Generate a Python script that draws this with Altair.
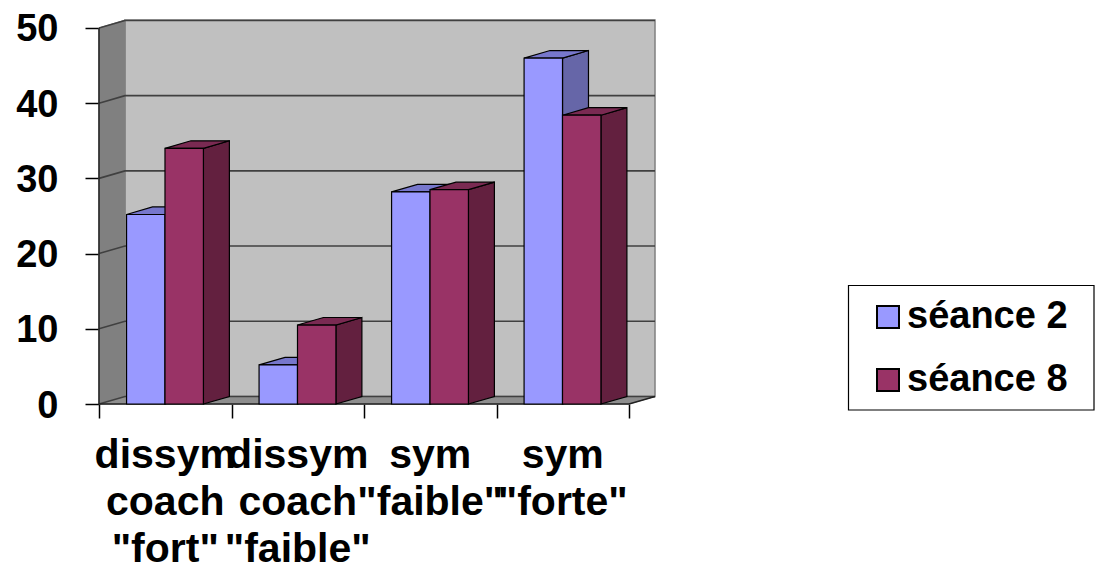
import altair as alt
import pandas as pd

categories = ['dissym\ncoach\n"fort"', 'dissym\ncoach\n"faible"', 'sym\n"faible"', 'sym\n"forte"']
series_names = ["séance 2", "séance 8"]
seance_2 = [25.2, 5.2, 28.2, 46.0]
seance_8 = [34.0, 10.5, 28.5, 38.4]
y_ticks = [0, 10, 20, 30, 40, 50]
x_ticks = [0, 1, 2, 3, 4]

# 3-D projection, in data units of each scale
DX, DY = 0.196, 1.0
GAP, BAR = 0.208, 0.29
X_MAX, Y_MAX = 4 + DX, 51.06

FONT = "Liberation Sans"
xs = alt.Scale(domain=[0, X_MAX], nice=False, zero=False)
ys = alt.Scale(domain=[0, Y_MAX], nice=False, zero=False)
x_axis = alt.Axis(values=x_ticks, labels=False, domain=False, grid=False,
                  tickSize=14, tickColor="#000000", tickWidth=1.5, title=None)
y_axis = alt.Axis(values=y_ticks, domain=False, grid=False, tickSize=14,
                  tickColor="#000000", tickWidth=1.5, labelFont=FONT,
                  labelFontSize=38, labelFontWeight="bold", labelColor="#000000",
                  labelPadding=27, labelOffset=2, title=None)
X = alt.X("x:Q", scale=xs, axis=x_axis)
Y = alt.Y("y:Q", scale=ys, axis=y_axis)
Y2 = alt.Y2("y2:Q")


def area(rows, fill, stroke="#000000", width=1.2):
    df = pd.DataFrame(rows, columns=["id", "x", "y", "y2"])
    return alt.Chart(df).mark_area(orient="vertical", fill=fill, stroke=stroke,
                                   strokeWidth=width, opacity=1).encode(
        x=X, y=Y, y2=Y2, detail="id:N")


wall = alt.Chart(pd.DataFrame({"x": [DX], "x2": [X_MAX], "y": [DY], "y2": [Y_MAX]})).mark_rect(
    fill="#C0C0C0", stroke="#808080", strokeWidth=1.5).encode(x=X, x2="x2:Q", y=Y, y2=Y2)

left_wall = area([(0, 0, 0, 50), (0, DX, DY, Y_MAX)], "#808080", "#808080", 1)
floor = area([(0, 0, 0, 0), (0, DX, 0, DY), (0, 4, 0, DY), (0, X_MAX, DY, DY)], "#8E8E8E", "#8E8E8E", 1)

grid_rows = []
for v in y_ticks:
    grid_rows += [(v, 0, v), (v, DX, v + DY), (v, X_MAX, v + DY)]
grid = alt.Chart(pd.DataFrame(grid_rows, columns=["v", "x", "y"])).mark_line(
    color="#404040", strokeWidth=1.6).encode(x=X, y=Y, detail="v:N")

frame = alt.Chart(pd.DataFrame({"x": [0, 0, 4, X_MAX], "y": [50, 0, 0, DY], "i": [0, 1, 2, 3]})).mark_line(
    color="#202020", strokeWidth=1.5).encode(x=X, y=Y, order="i:Q")


def faces(values, start):
    side, top = [], []
    for i, v in enumerate(values):
        x0 = i + start
        x1 = x0 + BAR
        side += [(i, x1, 0, v), (i, x1 + DX, DY, v + DY)]
        top += [(i, x0, v, v), (i, x0 + DX, v, v + DY), (i, x1, v, v + DY), (i, x1 + DX, v + DY, v + DY)]
    return side, top


s1_side, s1_top = faces(seance_2, GAP)
s2_side, s2_top = faces(seance_8, GAP + BAR)

front_rows = []
for name, vals, start in [(series_names[0], seance_2, GAP), (series_names[1], seance_8, GAP + BAR)]:
    for i, v in enumerate(vals):
        front_rows.append({"s": name, "x": i + start, "x2": i + start + BAR, "y": 0, "y2": v})
fronts = alt.Chart(pd.DataFrame(front_rows)).mark_rect(stroke="#000000", strokeWidth=1.2).encode(
    x=X, x2="x2:Q", y=Y, y2=Y2,
    fill=alt.Fill("s:N", scale=alt.Scale(domain=series_names, range=["#9999FF", "#993366"]),
                  legend=alt.Legend(orient="none", legendX=770, legendY=278, title=None,
                                    padding=0,
                                    symbolType="square", symbolSize=484, symbolStrokeColor="#000000",
                                    symbolStrokeWidth=2, labelFont=FONT, labelFontSize=38,
                                    labelFontWeight="bold", labelColor="#000000", labelOffset=0,
                                    labelLimit=400, rowPadding=25)))

legend_box = alt.Chart(pd.DataFrame({"a": [0]})).mark_rect(
    fill="#FFFFFF", stroke="#000000", strokeWidth=1.2).encode(
    x=alt.value(749.5), x2=alt.value(995), y=alt.value(265.5), y2=alt.value(390))

labels = alt.Chart(pd.DataFrame({"c": categories, "x": [i + 0.5 for i in range(len(categories))]})).mark_text(
    lineBreak="\n", font=FONT, fontSize=41, fontWeight="bold", color="#000000",
    align="center", baseline="alphabetic", lineHeight=47).encode(
    x=X, y=alt.value(448), text="c:N")

chart = alt.layer(
    wall, left_wall, floor, grid, frame,
    area(s1_side, "#6666A8"), area(s1_top, "#7777CC"),
    area(s2_side, "#63203F"), area(s2_top, "#7A2A52"),
    fronts, labels, legend_box,
).properties(
    width=556, height=384,
    autosize=alt.AutoSizeParams(type="none"),
    padding={"left": 91, "top": 12, "right": 440, "bottom": 167},
).configure_view(stroke=None)

chart.save("out.html", embed_options={"renderer": "svg", "actions": False})
